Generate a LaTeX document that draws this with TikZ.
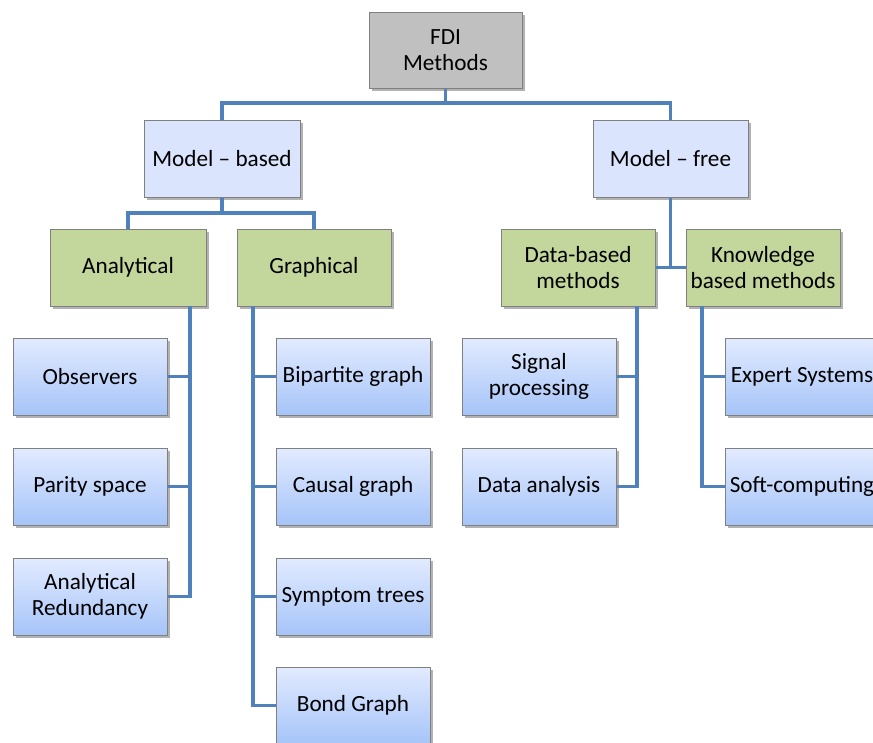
\documentclass[tikz,border=0pt]{standalone}
\usepackage{fontspec}
\setmainfont{Carlito}
\usetikzlibrary{shadows}
\definecolor{linkblue}{RGB}{79,129,189}
\definecolor{topgray}{RGB}{192,192,192}
\definecolor{boxedge}{RGB}{128,128,128}
\definecolor{greenfill}{RGB}{195,214,155}
\definecolor{lvtwo}{RGB}{218,228,253}
\definecolor{leaftop}{RGB}{226,235,255}
\definecolor{leafbot}{RGB}{166,196,248}
\tikzset{
  basebox/.style={draw=boxedge, line width=1pt, minimum width=154pt, minimum height=77pt,
    inner sep=2pt, align=center, font=\fontsize{23.2}{26}\selectfont,
    drop shadow={shadow xshift=2.5pt, shadow yshift=-2.5pt, fill=black, opacity=0.3}},
  topbox/.style={basebox, fill=topgray},
  twobox/.style={basebox, fill=lvtwo},
  greenbox/.style={basebox, fill=greenfill},
  leafbox/.style={basebox, top color=leaftop, bottom color=leafbot},
  link/.style={draw=linkblue, line width=3.2pt}
}
\begin{document}
\begin{tikzpicture}[x=1pt,y=-1pt]
\useasboundingbox (0,0) rectangle (873,742);
% nodes
\node[topbox, minimum width=153pt, minimum height=76pt] (fdi) at (445.5,50) {FDI\\Methods};
\node[twobox, minimum width=156pt] (mb) at (222,158.5) {Model -- based};
\node[twobox, minimum width=155pt] (mf) at (670.5,158.5) {Model -- free};
\node[greenbox, minimum width=156pt] (an) at (128,267.5) {Analytical};
\node[greenbox] (gr) at (314,267.5) {Graphical};
\node[greenbox] (db) at (578,267.5) {Data-based\\methods};
\node[greenbox] (kb) at (763,267.5) {Knowledge\\based methods};
\node[leafbox] (obs) at (90,376.5) {Observers};
\node[leafbox] (par) at (90,486.5) {Parity space};
\node[leafbox] (ared) at (90,596.5) {Analytical\\Redundancy};
\node[leafbox] (bip) at (353,376.5) {Bipartite graph};
\node[leafbox] (cau) at (353,486.5) {Causal graph};
\node[leafbox] (sym) at (353,596.5) {Symptom trees};
\node[leafbox] (bond) at (353,705.5) {Bond Graph};
\node[leafbox] (sig) at (539,376.5) {Signal\\processing};
\node[leafbox] (dan) at (539,486.5) {Data analysis};
\node[leafbox] (exp) at (802,376.5) {Expert Systems};
\node[leafbox] (soft) at (802,486.5) {Soft-computing};
% helper coordinates
\coordinate (h1) at (445.5,103);
\coordinate (h2) at (222,213);
\coordinate (ta) at (190,306);
\coordinate (tg) at (253,306);
\coordinate (td) at (637,306);
\coordinate (tk) at (702,306);
% connectors
\draw[link] (fdi.south) -- (h1);
\draw[link] (mb.north) -- (mb.north |- h1) -- (mf.north |- h1) -- (mf.north);
\draw[link] (mb.south) -- (h2);
\draw[link] (an.north) -- (an.north |- h2) -- (gr.north |- h2) -- (gr.north);
\draw[link] (mf.south) -- (mf.south |- db.east);
\draw[link] (db.east) -- (kb.west);
\draw[link] (ta) -- (ta |- ared.east) -- (ared.east);
\draw[link] (obs.east) -- (obs.east -| ta);
\draw[link] (par.east) -- (par.east -| ta);
\draw[link] (tg) -- (tg |- bond.west) -- (bond.west);
\draw[link] (bip.west) -- (bip.west -| tg);
\draw[link] (cau.west) -- (cau.west -| tg);
\draw[link] (sym.west) -- (sym.west -| tg);
\draw[link] (td) -- (td |- dan.east) -- (dan.east);
\draw[link] (sig.east) -- (sig.east -| td);
\draw[link] (tk) -- (tk |- soft.west) -- (soft.west);
\draw[link] (exp.west) -- (exp.west -| tk);
\end{tikzpicture}
\end{document}
